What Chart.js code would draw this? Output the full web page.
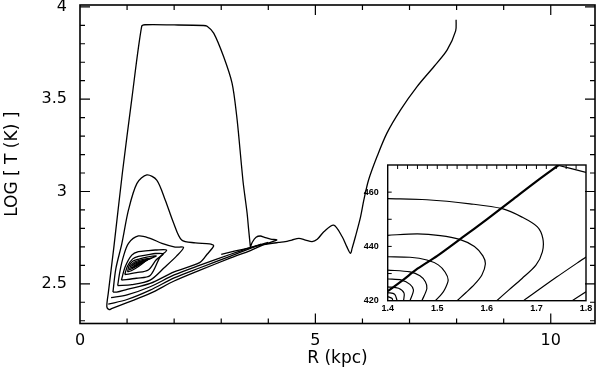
<!DOCTYPE html>
<html>
<head>
<meta charset="utf-8">
<script src="https://cdn.jsdelivr.net/npm/chart.js@4.4.1/dist/chart.umd.min.js"></script>
<style>
  body { margin: 0; background: #fff; }
  #wrap { position: relative; width: 599px; height: 374px; }
  #main { position: absolute; left: 0; top: 0; }
  #inset { position: absolute; left: 340px; top: 155px; }
</style>
</head>
<body>
<div id="wrap">
  <canvas id="main" width="599" height="374"></canvas>
  <canvas id="inset" width="255" height="165"></canvas>
</div>
<script>
// ---- main panel: contour lines, [R (kpc), log T] ----
const wiggleBranch = [[7.99,3.93],[7.98,3.87],[7.80,3.767],[7.52,3.677],[7.16,3.568],[6.81,3.442],[6.52,3.316],
  [6.31,3.189],[6.13,3.062],[6.03,2.954],[5.96,2.863],[5.85,2.755],[5.78,2.692],[5.745,2.665],[5.67,2.70],
  [5.57,2.755],[5.39,2.818],[5.18,2.782],[5.04,2.741],[4.93,2.728],[4.79,2.737],[4.65,2.746],[4.50,2.737],
  [4.36,2.728],[4.22,2.724],[3.90,2.712],[3.62,2.696],[3.30,2.678],[3.00,2.660]];
const plateauLoop = [[3.62,2.698],[3.58,2.80],[3.55,2.882],[3.50,2.98],[3.46,3.062],[3.40,3.225],[3.33,3.406],
  [3.23,3.587],[3.05,3.731],[2.84,3.858],[2.70,3.895],[2.62,3.899],[2.0,3.902],[1.38,3.903],[1.31,3.894],
  [1.10,3.50],[0.90,3.10],[0.72,2.70],[0.60,2.448],[0.57,2.375],[0.62,2.36],[0.67,2.365],[1.0,2.398],
  [1.49,2.448],[2.0,2.515],[2.55,2.574],[3.2,2.64],[3.62,2.68],[3.9,2.712],[4.18,2.737],
  [4.05,2.742],[3.92,2.752],[3.83,2.759],[3.74,2.752],[3.66,2.725],[3.62,2.698]];
const bandLine1 = [[0.60,2.39],[1.0,2.415],[1.49,2.466],[2.0,2.532],[2.55,2.587],[3.2,2.65],[3.7,2.70],[4.0,2.725]];
const bandLine2 = [[0.66,2.425],[1.0,2.44],[1.49,2.484],[2.0,2.548],[2.55,2.601],[3.2,2.66],[3.6,2.695],[3.85,2.715]];
const loopPeak = [[0.70,2.455],[0.76,2.58],[0.89,2.719],[1.03,2.90],[1.21,3.044],[1.42,3.09],[1.63,3.062],
  [1.81,2.954],[1.99,2.828],[2.16,2.737],[2.45,2.722],[2.75,2.716],[2.84,2.706],[2.70,2.66],[2.55,2.616],
  [2.0,2.565],[1.49,2.502],[1.0,2.47],[0.78,2.455],[0.70,2.455]];
const loopBump = [[0.80,2.49],[0.85,2.57],[0.92,2.646],[1.03,2.719],[1.24,2.759],[1.49,2.746],[1.74,2.719],
  [2.02,2.699],[2.20,2.697],[2.05,2.65],[1.80,2.59],[1.49,2.52],[1.10,2.495],[0.80,2.49]];
const loop4 = [[0.88,2.52],[0.96,2.592],[1.10,2.655],[1.24,2.674],[1.45,2.68],[1.60,2.683],[1.84,2.683],
  [1.70,2.645],[1.49,2.545],[1.20,2.53],[0.88,2.52]];
const loop5 = [[0.95,2.55],[1.01,2.596],[1.12,2.635],[1.24,2.648],[1.45,2.658],[1.60,2.664],[1.77,2.662],
  [1.62,2.63],[1.45,2.575],[1.20,2.56],[0.95,2.55]];
const eye1 = [[1.01,2.565],[1.04,2.595],[1.12,2.622],[1.25,2.634],[1.42,2.645],[1.62,2.65],[1.42,2.628],
  [1.25,2.595],[1.10,2.572],[1.01,2.565]];
const eye2 = [[1.05,2.575],[1.08,2.598],[1.16,2.618],[1.30,2.63],[1.52,2.64],[1.32,2.618],[1.18,2.592],[1.05,2.575]];
const eye3 = [[1.09,2.585],[1.12,2.602],[1.20,2.616],[1.32,2.625],[1.45,2.633],[1.32,2.612],[1.18,2.594],[1.09,2.585]];
const eye4 = [[1.13,2.593],[1.17,2.606],[1.27,2.617],[1.38,2.626],[1.27,2.608],[1.13,2.593]];
const eye5 = [[1.18,2.600],[1.23,2.610],[1.31,2.618],[1.23,2.604],[1.18,2.600]];

// ---- inset panel: [R, T (K)] ----
const insetTrack = [[1.40,423.5],[1.43,427.5],[1.46,431.8],[1.50,436.5],[1.55,443.2],[1.60,450],
  [1.65,457],[1.70,464],[1.745,470]];
const insetArc1 = [[1.40,457.6],[1.479,457.2],[1.566,455.7],[1.631,453.9],[1.671,450.8],[1.702,447.2],
  [1.713,442.9],[1.712,438],[1.699,433.1],[1.671,428.2],[1.644,423.9],[1.620,420]];
const insetArc2 = [[1.40,444.1],[1.46,444.6],[1.506,444.0],[1.545,442.6],[1.575,440],[1.592,436.5],
  [1.597,433.5],[1.59,429.5],[1.575,426],[1.558,423],[1.54,420]];
const insetArc3 = [[1.40,436.2],[1.445,436.0],[1.479,435.0],[1.502,433.2],[1.516,430.5],[1.522,427.6],
  [1.516,424.5],[1.509,422.5],[1.496,420]];
const insetArc4 = [[1.40,431.3],[1.445,430.6],[1.465,429.2],[1.476,427.0],[1.479,424.5],[1.469,420]];
const insetArc5 = [[1.40,428],[1.428,427.6],[1.445,426],[1.452,423.9],[1.445,420]];
const insetArc6 = [[1.40,425.1],[1.422,424.6],[1.433,422.8],[1.432,420]];
const insetArc7 = [[1.40,423],[1.414,422.4],[1.419,420]];
const insetArc8 = [[1.40,421.5],[1.409,420.8],[1.41,420]];
const insetLineA = [[1.674,420],[1.74,428.6],[1.8,436.1]];
const insetLineB = [[1.772,420],[1.8,423.3]];
const insetLineC = [[1.741,470],[1.8,467.3]];

// tick marks
const mainRTicks = [1,2,3,4,5,6,7,8,9,10];
const mainTTicks = [2.3,2.4,2.5,2.6,2.7,2.8,2.9,3.0,3.1,3.2,3.3,3.4,3.5,3.6,3.7,3.8,3.9,4.0];
const insetRTicks = [1.42,1.44,1.46,1.48,1.5,1.52,1.54,1.56,1.58,1.6,1.62,1.64,1.66,1.68,1.7,1.72,1.74,1.76,1.78];
const insetTTicks = [430,440,450,460];

const toPoints = pairs => pairs.map(([r, t]) => ({x: r, y: t}));

// inward ticks + frame box
const frameTicks = {
  id: 'frameTicks',
  afterDatasetsDraw(chart, args, o) {
    const {ctx, chartArea: a, scales: {x, y}} = chart;
    ctx.save();
    ctx.strokeStyle = '#000';
    ctx.lineWidth = o.tickWidth;
    ctx.beginPath();
    o.xTicks.forEach(v => {
      const px = x.getPixelForValue(v), len = o.xLen(v);
      if (o.xSides.includes('bottom')) { ctx.moveTo(px, a.bottom); ctx.lineTo(px, a.bottom - len); }
      if (o.xSides.includes('top')) { ctx.moveTo(px, a.top); ctx.lineTo(px, a.top + len); }
    });
    o.yTicks.forEach(v => {
      const py = y.getPixelForValue(v), len = o.yLen(v);
      if (o.ySides.includes('left')) { ctx.moveTo(a.left, py); ctx.lineTo(a.left + len, py); }
      if (o.ySides.includes('right')) { ctx.moveTo(a.right, py); ctx.lineTo(a.right - len, py); }
    });
    ctx.stroke();
    ctx.lineWidth = o.frameWidth;
    ctx.strokeRect(a.left, a.top, a.right - a.left, a.bottom - a.top);
    ctx.restore();
  }
};

const lineSet = (pts, width) => ({
  data: toPoints(pts), showLine: true, borderColor: '#000', borderWidth: width,
  pointRadius: 0, tension: 0.3, fill: false
});

const tickFont = {family: 'DejaVu Sans', size: 16};
const titleFont = {family: 'DejaVu Sans', size: 17};

new Chart(document.getElementById('main'), {
  type: 'scatter',
  data: {
    datasets: [wiggleBranch, plateauLoop, bandLine1, bandLine2, loopPeak, loopBump, loop4, loop5,
      eye1, eye2, eye3, eye4, eye5].map(c => lineSet(c, 1.3))
  },
  options: {
    responsive: false, animation: false, devicePixelRatio: 1,
    layout: {padding: {top: 5, right: 4, left: 0, bottom: 0}},
    plugins: {
      legend: {display: false}, tooltip: {enabled: false},
      frameTicks: {
        xTicks: mainRTicks, yTicks: mainTTicks, xSides: ['top', 'bottom'], ySides: ['left', 'right'],
        xLen: v => (v % 5 === 0 ? 10 : 5),
        yLen: v => (Math.abs(v * 2 - Math.round(v * 2)) < 1e-6 ? 10 : 5),
        tickWidth: 1.2, frameWidth: 1.6
      }
    },
    scales: {
      x: {
        type: 'linear', min: 0, max: 10.94,
        afterFit(s) { s.height = 50.5; s.paddingLeft = 0; s.paddingRight = 0; },
        ticks: {stepSize: 5, includeBounds: false, padding: 8, color: '#000', font: tickFont, maxRotation: 0,
          callback: v => String(Number(v))},
        grid: {display: false, drawTicks: false}, border: {display: false},
        title: {display: true, text: 'R (kpc)', color: '#000', font: titleFont, padding: {top: 0, bottom: 5}}
      },
      y: {
        type: 'linear', min: 2.285, max: 4.01,
        afterFit(s) { s.width = 80; s.paddingTop = 0; s.paddingBottom = 0; },
        ticks: {stepSize: 0.5, includeBounds: false, padding: 13, color: '#000', font: tickFont,
          callback: v => String(Math.round(v * 10) / 10)},
        grid: {display: false, drawTicks: false}, border: {display: false},
        title: {display: true, text: 'LOG [ T (K) ]', color: '#000', font: titleFont, padding: {top: 2, bottom: 0}}
      }
    }
  },
  plugins: [frameTicks]
});

const insetFont = {family: 'Liberation Sans', size: 9, weight: 'bold'};

new Chart(document.getElementById('inset'), {
  type: 'scatter',
  data: {
    datasets: [
      lineSet(insetTrack, 2.2),
      ...[insetArc1, insetArc2, insetArc3, insetArc4, insetArc5, insetArc6, insetArc7, insetArc8,
          insetLineA, insetLineB, insetLineC].map(c => lineSet(c, 1.2))
    ]
  },
  options: {
    responsive: false, animation: false, devicePixelRatio: 1,
    layout: {padding: {top: 10, right: 9, left: 0, bottom: 0}},
    plugins: {
      legend: {display: false}, tooltip: {enabled: false},
      frameTicks: {
        xTicks: insetRTicks, yTicks: insetTTicks, xSides: ['top'], ySides: ['left'],
        xLen: () => 4, yLen: () => 4, tickWidth: 1, frameWidth: 1.4
      }
    },
    scales: {
      x: {
        type: 'linear', min: 1.4, max: 1.8,
        afterFit(s) { s.height = 19.3; s.paddingLeft = 0; s.paddingRight = 0; },
        ticks: {stepSize: 0.1, padding: 2, color: '#000', font: insetFont, maxRotation: 0,
          callback: v => v.toFixed(1)},
        grid: {display: false, drawTicks: false}, border: {display: false}
      },
      y: {
        type: 'linear', min: 420, max: 470,
        afterFit(s) { s.width = 47.7; s.paddingTop = 0; s.paddingBottom = 0; },
        ticks: {stepSize: 20, includeBounds: false, padding: 9, color: '#000', font: insetFont},
        grid: {display: false, drawTicks: false}, border: {display: false}
      }
    }
  },
  plugins: [frameTicks]
});
</script>
</body>
</html>
